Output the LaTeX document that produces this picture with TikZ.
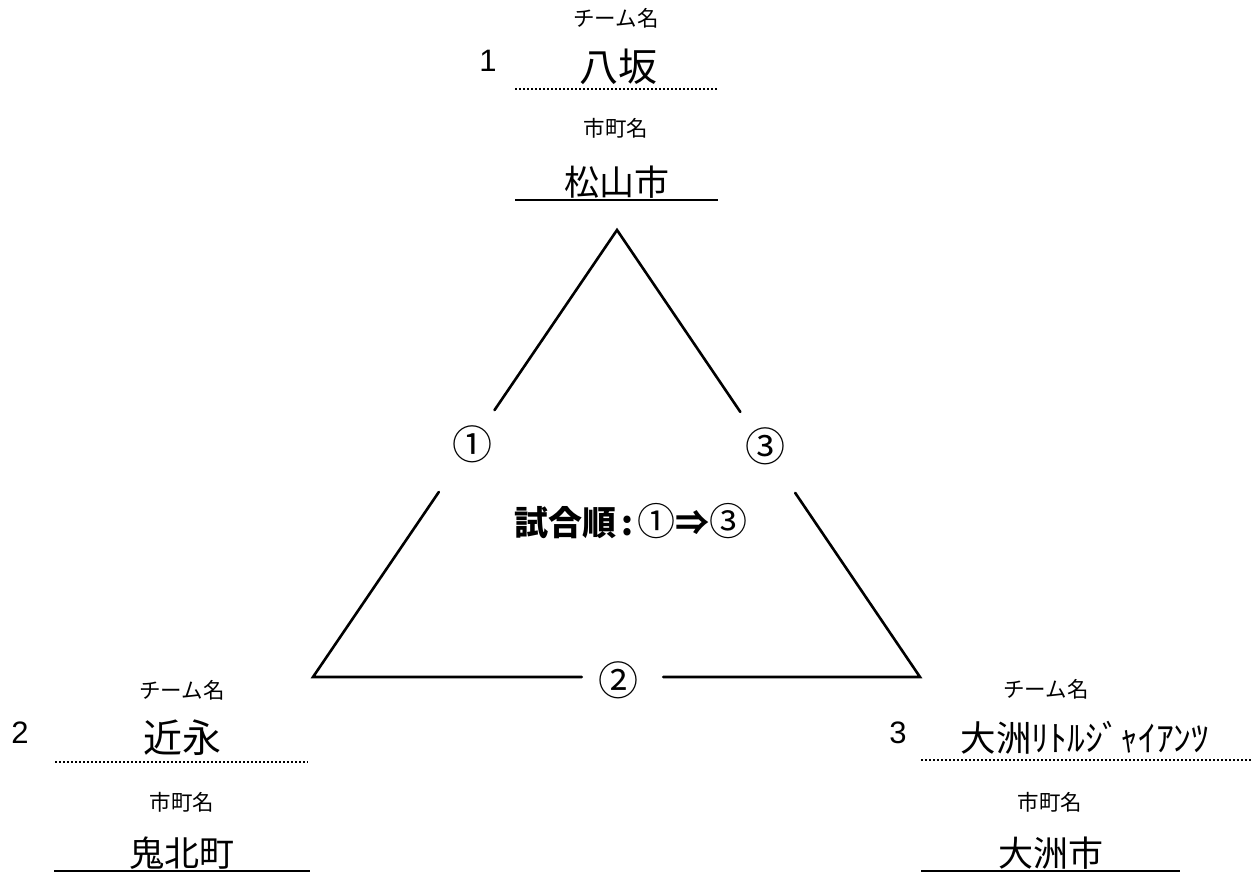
\documentclass[tikz,border=0pt]{standalone}
\usepackage{fontspec}
\newfontfamily\jp{Noto Sans CJK JP}
\newfontfamily\lat{Liberation Sans}
\usetikzlibrary{calc}
\newcommand\circnum[1]{{\mdseries\fontsize{38}{44}\selectfont #1}}
\tikzset{
  small/.style={font=\jp\fontsize{21.5}{24}\selectfont, inner sep=0pt},
  team/.style={font=\jp\fontsize{39}{44}\selectfont, inner sep=0pt},
  city/.style={font=\jp\fontsize{35}{40}\selectfont, inner sep=0pt},
  num/.style={font=\lat\fontsize{31}{34}\selectfont, inner sep=0pt},
  circ/.style={font=\jp\fontsize{40}{44}\selectfont, inner sep=0pt},
  order/.style={font=\jp\bfseries\fontsize{34}{40}\selectfont, inner sep=0pt},
  tri/.style={line width=2.6pt, line cap=round, line join=miter},
  dotline/.style={line width=2pt, dash pattern=on 2pt off 2pt},
  solidline/.style={line width=2.6pt},
}
\begin{document}
\begin{tikzpicture}[x=1pt,y=-1pt]
\useasboundingbox (0,0) rectangle (1255,876);
% triangle corners
\coordinate (apex) at (617,230);
\coordinate (bl) at (313,677);
\coordinate (br) at (920,677);
% match labels
\node[circ] (m1) at (472,444) {①};
\node[circ] (m3) at (765,446) {③};
\node[circ] (m2) at (618,680) {②};
\node[order] (ord) at (631,521) {試合順\hspace{5pt}:\hspace{4pt}\circnum{①}⇒\circnum{③}};
% triangle sides with gaps
\draw[tri] ($(apex)!0.403!(bl)$) -- (apex) -- ($(apex)!0.407!(br)$);
\draw[tri] ($(apex)!0.586!(bl)$) -- (bl) -- ($(bl)!0.443!(br)$);
\draw[tri] ($(apex)!0.588!(br)$) -- (br) -- ($(bl)!0.577!(br)$);
% team 1 (top)
\node[small] (t1lab) at (616,18) {チーム名};
\node[num] (t1num) at (488,61) {1};
\node[team] (t1name) at (618,67) {八坂};
\coordinate (t1dl) at (515,89);
\coordinate (t1dr) at (718,89);
\draw[dotline] (t1dl) -- (t1dr);
\node[small] (c1lab) at (616,128) {市町名};
\node[city] (c1name) at (617,182) {松山市};
\coordinate (c1l) at (515,200);
\coordinate (c1r) at (718,200);
\draw[solidline] (c1l) -- (c1r);
% team 2 (bottom left)
\node[small] (t2lab) at (182,690) {チーム名};
\node[num] (t2num) at (20,733) {2};
\node[team] (t2name) at (182,738) {近永};
\coordinate (t2dl) at (55,762);
\coordinate (t2dr) at (308,762);
\draw[dotline] (t2dl) -- (t2dr);
\node[small] (c2lab) at (182,802) {市町名};
\node[city] (c2name) at (182,853) {鬼北町};
\coordinate (c2l) at (54,871);
\coordinate (c2r) at (310,871);
\draw[solidline] (c2l) -- (c2r);
% team 3 (bottom right)
\node[small] (t3lab) at (1046,689) {チーム名};
\node[num] (t3num) at (898,733) {3};
\node[font=\jp\fontsize{35.5}{40}\selectfont, inner sep=0pt] (t3name) at (1085,738) {大洲ﾘﾄﾙｼﾞｬｲｱﾝﾂ};
\coordinate (t3dl) at (921,760);
\coordinate (t3dr) at (1252,760);
\draw[dotline] (t3dl) -- (t3dr);
\node[small] (c3lab) at (1050,802) {市町名};
\node[city] (c3name) at (1051,853) {大洲市};
\coordinate (c3l) at (921,871);
\coordinate (c3r) at (1180,871);
\draw[solidline] (c3l) -- (c3r);
\end{tikzpicture}
\end{document}
